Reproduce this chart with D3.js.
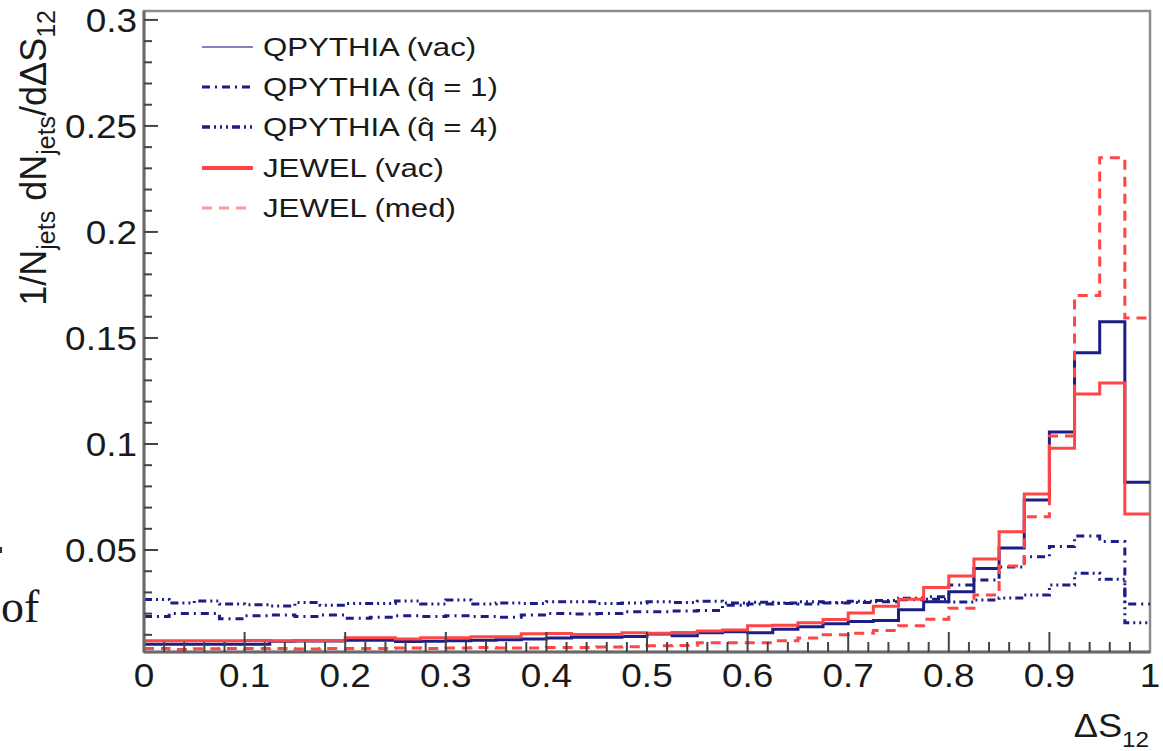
<!DOCTYPE html>
<html><head><meta charset="utf-8">
<script src="https://cdn.jsdelivr.net/npm/d3@7"></script>
<style>
html,body{margin:0;padding:0;background:#fff;overflow:hidden;}
text{font-family:"Liberation Sans",Arial,sans-serif;fill:#1a1a1a;}
</style></head>
<body><svg id="c" width="1163" height="751"></svg>
<script>
// ---- data ----
const binEdges = d3.range(0, 41).map(i => i * 0.025);
const qpythiaVac = [0.0056,0.0056,0.0055,0.0055,0.0056,0.0070,0.0071,0.0071,0.0074,0.0074,
  0.0068,0.0070,0.0072,0.0075,0.0077,0.0080,0.0085,0.0088,0.0088,0.0092,
  0.0104,0.0096,0.0110,0.0115,0.0110,0.0126,0.0138,0.0152,0.0163,0.0167,
  0.0218,0.0256,0.0303,0.0413,0.0510,0.0736,0.1057,0.1430,0.1576,0.0820];
const qpythiaQ1 = [0.0186,0.0201,0.0201,0.0176,0.0190,0.0193,0.0186,0.0193,0.0178,0.0183,
  0.0190,0.0186,0.0190,0.0186,0.0183,0.0193,0.0201,0.0198,0.0201,0.0209,
  0.0209,0.0212,0.0215,0.0240,0.0245,0.0248,0.0245,0.0250,0.0252,0.0256,
  0.0265,0.0280,0.0335,0.0358,0.0420,0.0468,0.0516,0.0566,0.0540,0.0245];
const qpythiaQ4 = [0.0267,0.0250,0.0260,0.0245,0.0242,0.0236,0.0253,0.0240,0.0248,0.0248,
  0.0260,0.0245,0.0264,0.0245,0.0250,0.0248,0.0256,0.0256,0.0248,0.0250,
  0.0256,0.0252,0.0258,0.0250,0.0254,0.0250,0.0256,0.0252,0.0258,0.0262,
  0.0272,0.0268,0.0255,0.0264,0.0274,0.0288,0.0335,0.0390,0.0362,0.0157];
const jewelVac = [0.0072,0.0072,0.0072,0.0072,0.0073,0.0072,0.0073,0.0073,0.0086,0.0086,
  0.0080,0.0086,0.0086,0.0091,0.0091,0.0105,0.0106,0.0102,0.0102,0.0110,
  0.0108,0.0111,0.0118,0.0123,0.0143,0.0145,0.0157,0.0172,0.0203,0.0235,
  0.0268,0.0323,0.0378,0.0458,0.0586,0.0764,0.0980,0.1236,0.1288,0.0670];
const jewelMed = [0.0036,0.0031,0.0034,0.0036,0.0035,0.0036,0.0033,0.0036,0.0036,0.0036,
  0.0038,0.0036,0.0038,0.0040,0.0038,0.0038,0.0040,0.0040,0.0042,0.0044,
  0.0048,0.0050,0.0063,0.0063,0.0063,0.0072,0.0085,0.0100,0.0108,0.0120,
  0.0143,0.0173,0.0225,0.0288,0.0425,0.0657,0.1038,0.1700,0.2350,0.1594];
const xTickValues = [0,0.1,0.2,0.3,0.4,0.5,0.6,0.7,0.8,0.9,1];
const xTickLabels = ["0","0.1","0.2","0.3","0.4","0.5","0.6","0.7","0.8","0.9","1"];
const yTickValues = [0.05,0.1,0.15,0.2,0.25,0.3];
const yTickLabels = ["0.05","0.1","0.15","0.2","0.25","0.3"];
const legendLabels = ["QPYTHIA (vac)","QPYTHIA (q\u0302 = 1)","QPYTHIA (q\u0302 = 4)","JEWEL (vac)","JEWEL (med)"];

// ---- styles ----
const NAVY = "#1d1d86", RED = "#ff4545";
const series = [
  {vals: qpythiaVac, color: NAVY, w: 3, dash: null, lw: 1.6, lcolor: "#5a5aa8"},
  {vals: qpythiaQ1, color: NAVY, w: 3, dash: "8,5,2,5", lw: 3, lcolor: NAVY},
  {vals: qpythiaQ4, color: NAVY, w: 3, dash: "8,4,2,4,2,4,2,4", lw: 3.5, lcolor: NAVY},
  {vals: jewelVac, color: RED, w: 3, dash: null, lw: 4, lcolor: RED},
  {vals: jewelMed, color: RED, w: 3, dash: "10,7", lw: 3, lcolor: "#ff9a9a"}
];

const svg = d3.select("#c");
const L = 144, R = 1150, T = 11, B = 652;
const x = d3.scaleLinear().domain([0,1]).range([L,R]);
const y = d3.scaleLinear().domain([0.0019,0.3042]).range([B,T]);

svg.append("defs").append("clipPath").attr("id","clip")
  .append("rect").attr("x",L).attr("y",T).attr("width",R-L).attr("height",B-T);

// frame
svg.append("rect").attr("x",L).attr("y",T).attr("width",R-L).attr("height",B-T)
  .attr("fill","none").attr("stroke","#8c8c8c").attr("stroke-width",2.5);

// histograms
const line = d3.line().x(d=>x(d[0])).y(d=>y(d[1]));
const g = svg.append("g").attr("clip-path","url(#clip)");
series.forEach(s => {
  const pts = [];
  s.vals.forEach((v,i)=>{ pts.push([binEdges[i],v]); pts.push([binEdges[i+1],v]); });
  g.append("path").attr("d", line(pts)).attr("fill","none")
    .attr("stroke", s.color).attr("stroke-width", s.w)
    .attr("stroke-dasharray", s.dash).attr("stroke-linejoin","miter");
});

// axes lines
svg.append("line").attr("x1",L).attr("x2",L).attr("y1",T).attr("y2",B).attr("stroke","#6a6a6a").attr("stroke-width",3);
svg.append("line").attr("x1",L).attr("x2",R).attr("y1",B).attr("y2",B).attr("stroke","#6a6a6a").attr("stroke-width",3);

// y ticks
const yMinor = d3.range(1,31).map(i=>i*0.01);
yMinor.forEach(v=>{
  const major = Math.abs(v/0.05 - Math.round(v/0.05))<1e-6;
  svg.append("line").attr("x1",L).attr("x2",L+(major?14:8)).attr("y1",y(v)).attr("y2",y(v))
    .attr("stroke","#444").attr("stroke-width",2);
});
// x ticks
const xMinor = d3.range(1,50).map(i=>i*0.02);
xMinor.forEach(v=>{
  const major = Math.abs(v/0.1 - Math.round(v/0.1))<1e-6;
  svg.append("line").attr("y1",B).attr("y2",B-(major?20:10)).attr("x1",x(v)).attr("x2",x(v))
    .attr("stroke","#444").attr("stroke-width",2);
});

const SX = 1.12;
yTickValues.forEach((v,i)=>{
  svg.append("text").attr("transform",`translate(${L-7},${y(v)+12}) scale(${SX},1)`)
    .attr("text-anchor","end").attr("font-size",33).text(yTickLabels[i]);
});
xTickValues.forEach((v,i)=>{
  svg.append("text").attr("transform",`translate(${x(v)},${687}) scale(${SX},1)`)
    .attr("text-anchor","middle").attr("font-size",33).text(xTickLabels[i]);
});

// x title
const xt = svg.append("text").attr("transform",`translate(1149,737) scale(1.1,1)`).attr("text-anchor","end").attr("font-size",33);
xt.append("tspan").text("\u0394S");
xt.append("tspan").attr("font-size",22).attr("dy",10).text("12");

// y title
const yt = svg.append("text").attr("transform",`translate(46,10) rotate(-90)`).attr("text-anchor","end").attr("font-size",36);
yt.append("tspan").text("1/N");
yt.append("tspan").attr("font-size",25).attr("dy",9).text("jets");
yt.append("tspan").attr("dy",-9).text(" dN");
yt.append("tspan").attr("font-size",25).attr("dy",9).text("jets");
yt.append("tspan").attr("dy",-9).text("/d\u0394S");
yt.append("tspan").attr("font-size",25).attr("dy",9).text("12");

// legend
const rows = [47,87,127,168,208];
legendLabels.forEach((lab,i)=>{
  const s = series[i];
  svg.append("line").attr("x1",202).attr("x2",253).attr("y1",rows[i]).attr("y2",rows[i])
    .attr("stroke",s.lcolor).attr("stroke-width",s.lw).attr("stroke-dasharray",s.dash);
  svg.append("text").attr("transform",`translate(263,${rows[i]+9}) scale(1.2,1)`)
    .attr("font-size",26).text(lab);
});

// page fragment text on the left
svg.append("text").attr("x",1).attr("y",622).attr("font-size",46)
  .style("font-family","'Liberation Serif',serif").text("of");
svg.append("rect").attr("x",0).attr("y",547).attr("width",2).attr("height",6).attr("fill","#333");
</script></body></html>
